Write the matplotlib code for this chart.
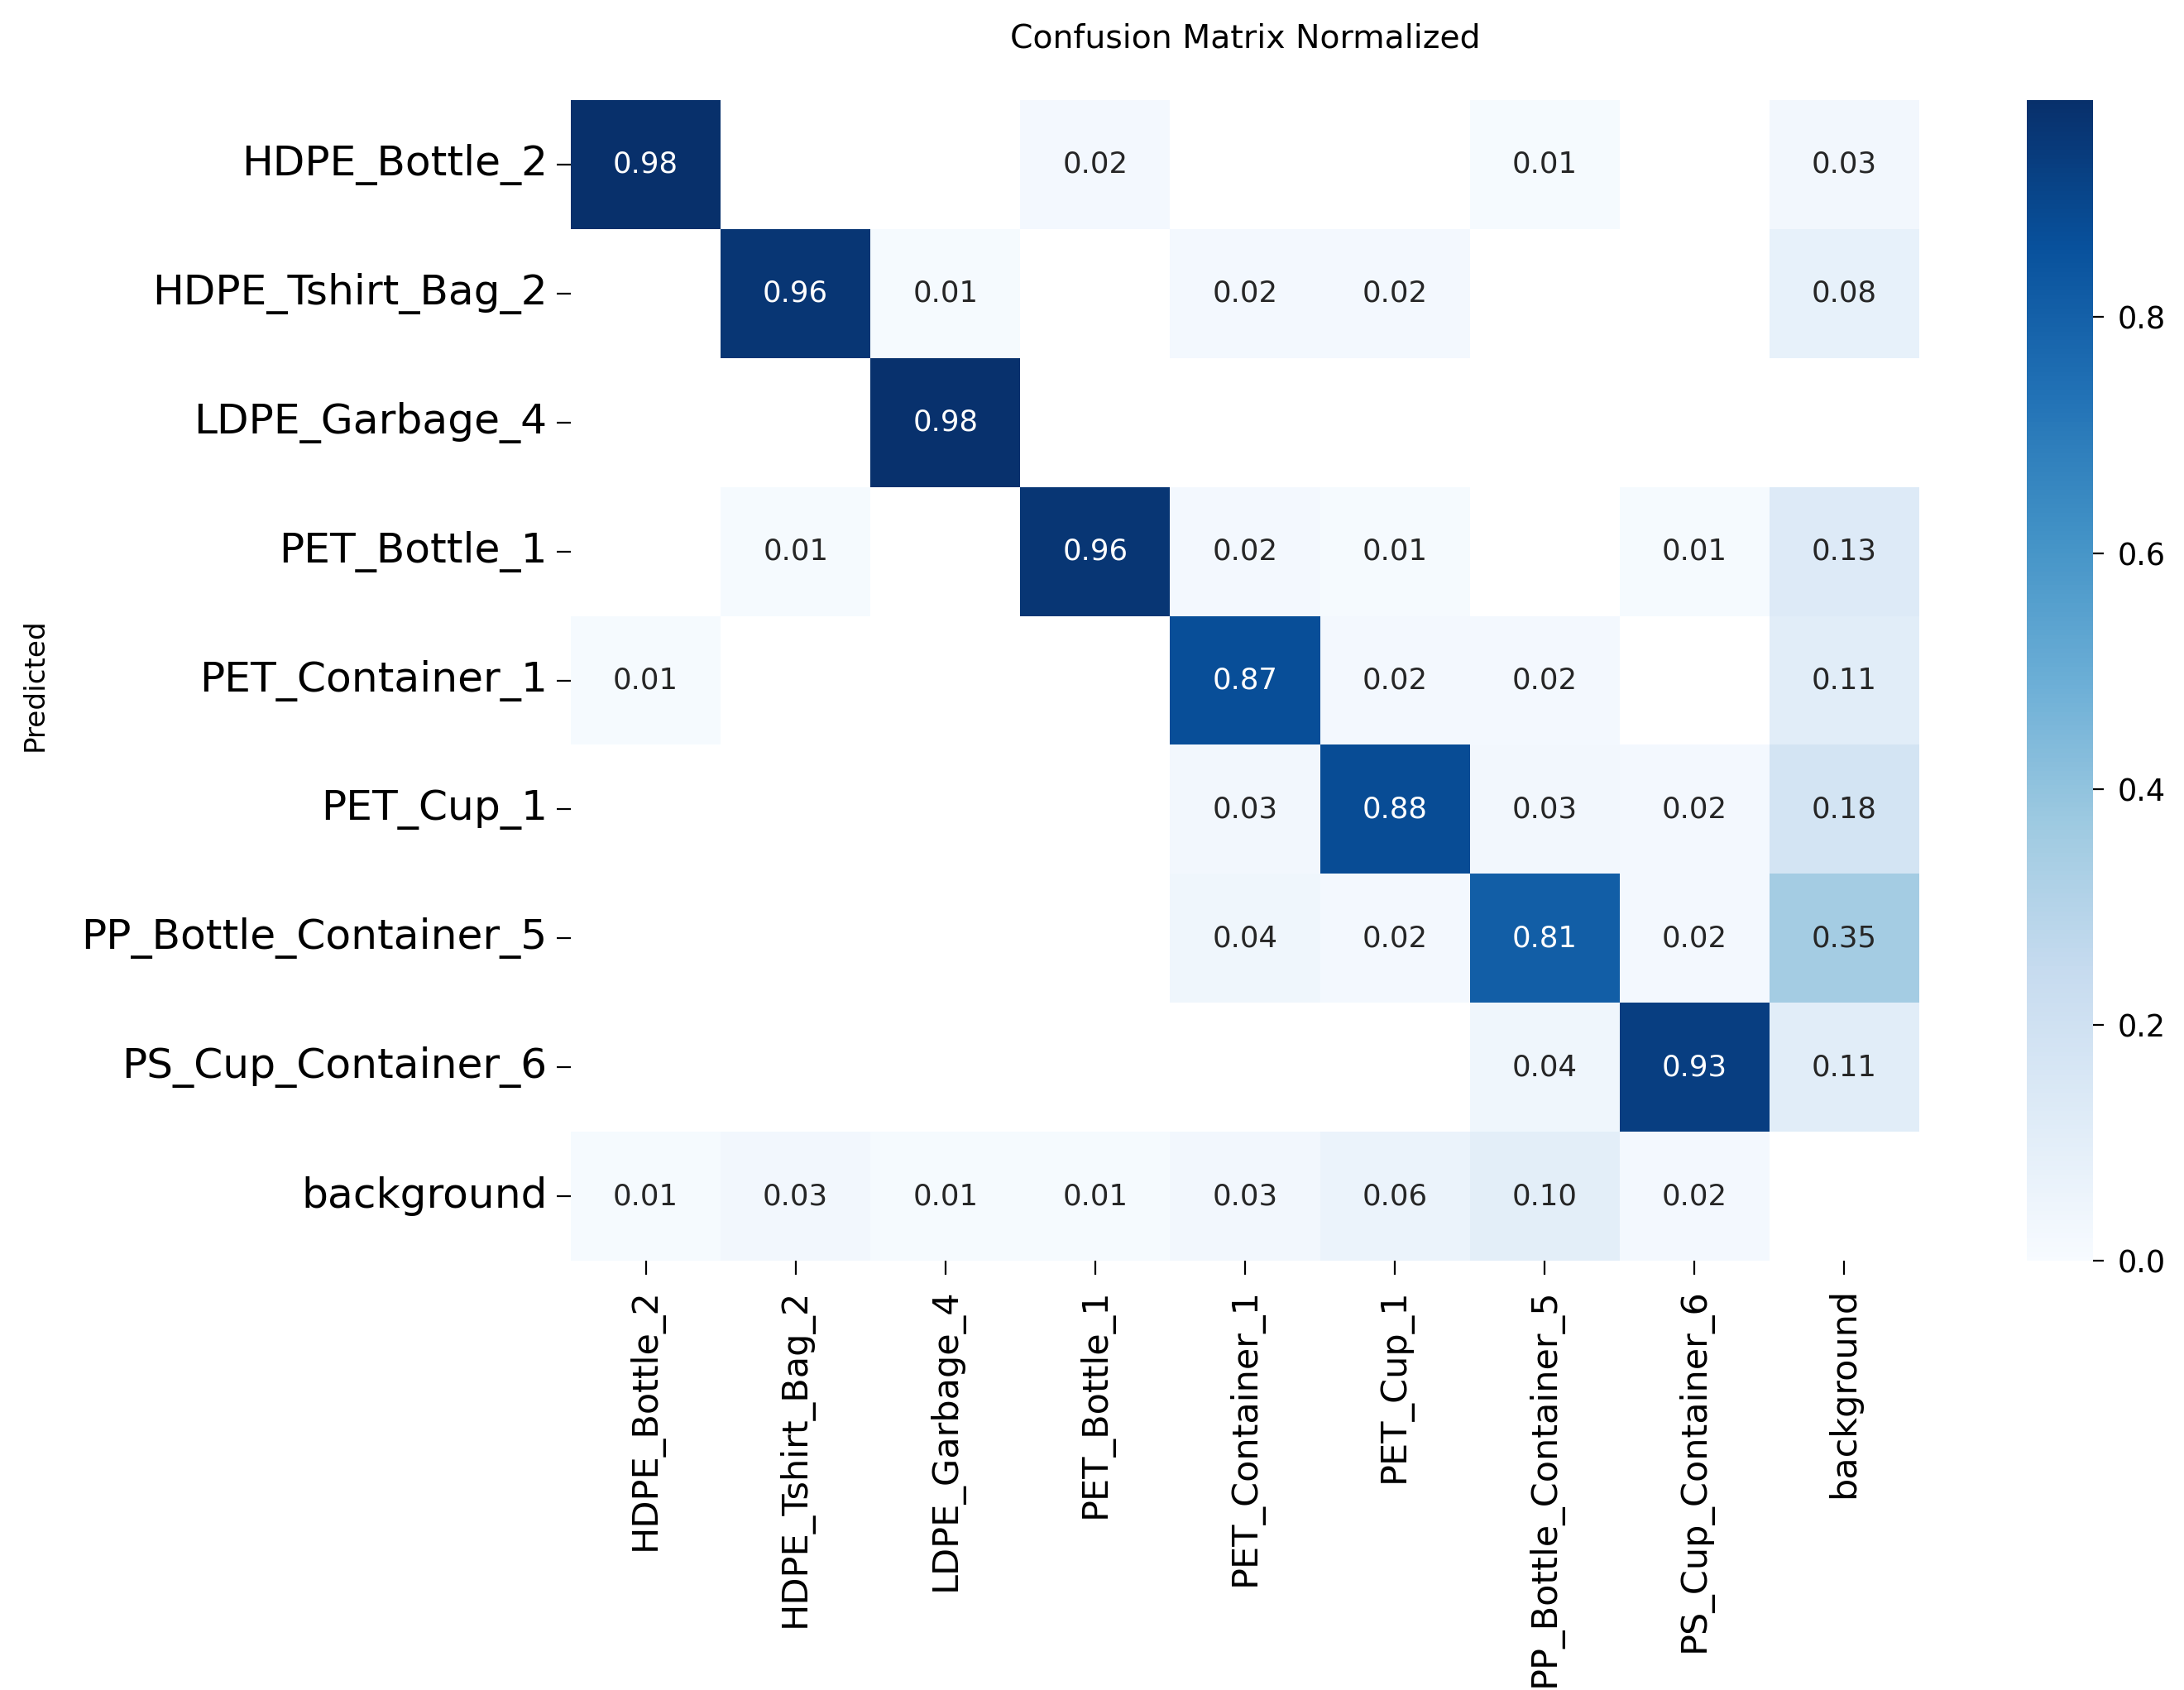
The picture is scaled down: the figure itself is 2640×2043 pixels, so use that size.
import numpy as np
import matplotlib
matplotlib.use("Agg")
import matplotlib.pyplot as plt
import seaborn as sns

classes = ["HDPE_Bottle_2", "HDPE_Tshirt_Bag_2", "LDPE_Garbage_4", "PET_Bottle_1",
           "PET_Container_1", "PET_Cup_1", "PP_Bottle_Container_5",
           "PS_Cup_Container_6", "background"]

# rows = Predicted, columns = True
row_hdpe_bottle = [0.984, 0, 0, 0.02, 0, 0, 0.01, 0, 0.03]
row_hdpe_tshirt = [0, 0.96, 0.01, 0, 0.02, 0.02, 0, 0, 0.08]
row_ldpe_garbage = [0, 0, 0.98, 0, 0, 0, 0, 0, 0]
row_pet_bottle = [0, 0.01, 0, 0.96, 0.02, 0.01, 0, 0.01, 0.13]
row_pet_container = [0.01, 0, 0, 0, 0.87, 0.02, 0.02, 0, 0.11]
row_pet_cup = [0, 0, 0, 0, 0.03, 0.88, 0.03, 0.02, 0.18]
row_pp_bottle = [0, 0, 0, 0, 0.04, 0.02, 0.81, 0.02, 0.35]
row_ps_cup = [0, 0, 0, 0, 0, 0, 0.04, 0.93, 0.11]
row_background = [0.01, 0.03, 0.01, 0.01, 0.03, 0.06, 0.10, 0.02, 0]

matrix = np.array([row_hdpe_bottle, row_hdpe_tshirt, row_ldpe_garbage, row_pet_bottle,
                   row_pet_container, row_pet_cup, row_pp_bottle, row_ps_cup,
                   row_background])

W, H = 2640, 2043
dpi = 200
fig = plt.figure(figsize=(W / dpi, H / dpi), dpi=dpi)
fig.patch.set_facecolor("white")

ax = fig.add_axes([690 / W, 1 - 1524 / H, 1630 / W, 1403 / H])
cax = fig.add_axes([2450 / W, 1 - 1524 / H, 80 / W, 1403 / H])

mask = matrix < 0.005
sns.heatmap(matrix, ax=ax, cbar_ax=cax, mask=mask, annot=True, fmt=".2f",
            annot_kws={"size": 12.8}, cmap="Blues", vmin=0.0,
            xticklabels=classes, yticklabels=classes, linewidths=0)
ax.set_facecolor("white")

ax.tick_params(axis="y", length=6, width=0.8, pad=4.2, labelsize=18.1, left=True)
ax.tick_params(axis="x", length=6, width=0.8, pad=6, labelsize=15.5, bottom=True)
plt.setp(ax.get_xticklabels(), rotation=90)
plt.setp(ax.get_yticklabels(), rotation=0)

cax.tick_params(length=4.7, width=0.8, pad=6, labelsize=13.2)
cax.set_yticks([0.0, 0.2, 0.4, 0.6, 0.8])
cax.set_yticklabels(["0.0", "0.2", "0.4", "0.6", "0.8"])
for sp in cax.spines.values():
    sp.set_visible(False)

fig.text(1505 / W, 1 - 47 / H, "Confusion Matrix Normalized", ha="center",
         va="center", fontsize=14.2)
fig.text(42 / W, 1 - 828 / H, "Predicted", ha="center", va="center",
         rotation=90, fontsize=12.3)

fig.savefig("out.png", dpi=dpi)
